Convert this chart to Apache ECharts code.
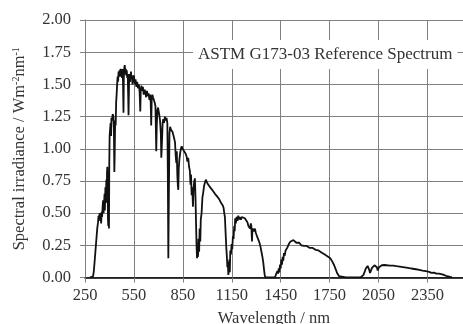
<!DOCTYPE html>
<html>
<head>
<meta charset="utf-8">
<script src="https://cdn.jsdelivr.net/npm/echarts@6/dist/echarts.min.js"></script>
<style>html,body{margin:0;padding:0;background:#fff;}#c{width:463px;height:324px;}</style>
</head>
<body>
<div id="c"></div>
<script>
const titleText = 'ASTM G173-03 Reference Spectrum';
const xAxisName = 'Wavelength / nm';
const yAxisName = 'Spectral irradiance / Wm{sup|-2}nm{sup|-1}';
const xTicks = [250, 550, 850, 1150, 1450, 1750, 2050, 2350];
const yTicks = [0, 0.25, 0.5, 0.75, 1, 1.25, 1.5, 1.75, 2];

const wavelengths = [
280,290,300,305,310,315,320,325,330,333,336,340,343,346,349,352,355,358,361,364,367,370,372,375,378,381,383,385,387,389,391,393,395,397,399,
401,404,407,410,412,416,420,424,427,430,432,435,438,441,444,447,450,453,456,459,462,465,468,471,474,477,480,483,486,488,491,494,497,
500,503,506,509,512,515,517,520,523,526,529,532,535,538,541,544,547,550,555,560,565,570,575,580,585,589,592,596,
600,605,610,615,620,625,630,635,640,645,650,653,656,659,663,667,672,677,682,687,690,694,698,
702,706,710,715,718,722,726,730,735,740,745,750,755,758,761,764,768,772,777,782,787,792,797,
802,806,810,813,816,819,822,825,829,833,838,843,848,853,858,863,868,873,878,883,888,893,897,
900,904,908,912,915,919,924,928,931,934,937,940,943,946,950,953,957,960,965,970,975,980,986,991,996,
1001,1006,1012,1018,1024,1030,1036,1042,1047,1053,1060,1066,1072,1078,1084,1090,1095,
1100,1104,1108,1111,1114,1117,1120,1123,1126,1129,1132,1135,1138,1141,1145,1149,1153,1157,1161,1165,1168,1171,1175,1180,1185,1190,1195,
1200,1206,1212,1218,1224,1230,1236,1241,1246,1252,1257,1262,1267,1270,1274,1277,1282,1287,1292,1297,
1302,1308,1314,1320,1326,1332,1338,1343,1348,1352,1356,1380,
1400,1415,1420,1425,1430,1434,1438,1442,1446,1450,1454,1458,1462,1466,1470,1475,1480,1485,1490,1495,
1500,1505,1510,1516,1522,1528,1534,1540,1546,1552,1558,1564,1570,1576,1580,1586,1592,1598,
1604,1610,1616,1622,1628,1634,1640,1646,1652,1658,1664,1670,1676,1682,1688,1694,
1700,1706,1712,1718,1724,1730,1736,1742,1748,1754,1760,1766,1772,1778,1784,1790,1796,
1802,1808,1815,1850,1900,1940,1950,1958,1965,1972,1978,1983,1988,1993,1998,
2002,2006,2010,2015,2020,2025,2030,2035,2040,2045,2049,2053,2058,2064,2070,2078,2086,2094,
2102,2110,2120,2130,2140,2150,2160,2170,2180,2190,2200,2210,2220,2230,2240,2250,2260,2270,2280,2290,
2300,2310,2320,2330,2340,2350,2360,2370,2375,2380,2390,2400,2405,2410,2420,2428,2435,2442,2450,2460,2470,2480,2490,2500
];

const irradiance = [
0,0,0.01,0.06,0.14,0.22,0.30,0.38,0.43,0.48,0.46,0.50,0.44,0.49,0.42,0.51,0.47,0.55,0.60,0.50,0.58,0.65,0.52,0.70,0.62,0.76,0.58,0.82,0.86,0.70,0.45,0.40,0.70,0.38,0.90,
1.10,1.15,1.20,1.10,1.24,1.22,1.27,1.25,1.16,0.82,0.95,1.22,1.18,1.36,1.42,1.50,1.56,1.52,1.60,1.57,1.61,1.56,1.62,1.58,1.60,1.55,1.62,1.52,1.28,1.55,1.63,1.65,1.58,
1.62,1.57,1.61,1.55,1.58,1.40,1.26,1.50,1.58,1.52,1.56,1.60,1.54,1.57,1.50,1.56,1.53,1.57,1.50,1.54,1.48,1.52,1.47,1.50,1.44,1.29,1.46,1.49,
1.45,1.48,1.42,1.46,1.44,1.40,1.45,1.41,1.43,1.38,1.42,1.36,1.18,1.38,1.42,1.40,1.38,1.36,1.33,0.98,1.18,1.30,1.32,
1.29,1.26,1.22,1.12,0.93,1.05,1.20,1.23,1.20,1.25,1.22,1.24,1.20,0.80,0.15,0.60,1.12,1.17,1.15,1.16,1.13,1.12,1.08,
1.05,0.95,0.89,0.98,0.80,0.72,0.68,0.85,0.92,0.96,1.00,1.02,1.00,1.01,0.98,0.99,0.96,0.94,0.90,0.93,0.86,0.83,0.72,
0.80,0.64,0.70,0.55,0.68,0.74,0.77,0.60,0.42,0.25,0.15,0.22,0.16,0.30,0.20,0.38,0.28,0.45,0.50,0.62,0.66,0.71,0.74,0.76,0.75,
0.73,0.72,0.71,0.70,0.69,0.68,0.67,0.66,0.65,0.64,0.63,0.62,0.61,0.60,0.58,0.57,0.56,
0.54,0.50,0.47,0.38,0.30,0.22,0.16,0.08,0.12,0.02,0.06,0.14,0.04,0.21,0.18,0.26,0.22,0.32,0.30,0.40,0.36,0.46,0.42,0.47,0.44,0.48,0.45,
0.47,0.45,0.47,0.46,0.47,0.46,0.46,0.45,0.43,0.40,0.39,0.38,0.42,0.40,0.28,0.38,0.39,0.36,0.38,0.35,
0.33,0.31,0.29,0.27,0.24,0.20,0.16,0.12,0.06,0.02,0,0,
0,0,0.02,0.01,0.05,0.03,0.07,0.04,0.10,0.07,0.14,0.10,0.16,0.13,0.19,0.17,0.21,0.20,0.23,0.24,
0.26,0.27,0.28,0.29,0.28,0.29,0.28,0.28,0.27,0.275,0.265,0.27,0.26,0.25,0.26,0.255,0.245,0.25,
0.24,0.245,0.235,0.24,0.23,0.235,0.225,0.23,0.22,0.225,0.215,0.22,0.21,0.21,0.205,0.20,
0.195,0.19,0.185,0.18,0.175,0.17,0.165,0.16,0.155,0.15,0.14,0.125,0.11,0.095,0.075,0.055,0.035,
0.02,0.01,0,0,0,0,0.005,0.02,0.045,0.07,0.085,0.09,0.085,0.06,0.035,
0.03,0.05,0.075,0.09,0.085,0.095,0.09,0.10,0.08,0.055,0.06,0.08,0.088,0.092,0.095,0.098,0.097,0.096,
0.095,0.094,0.093,0.091,0.092,0.089,0.088,0.086,0.085,0.082,0.081,0.079,0.077,0.075,0.072,0.071,0.068,0.066,0.064,0.061,
0.060,0.057,0.054,0.052,0.049,0.047,0.044,0.046,0.036,0.041,0.038,0.040,0.030,0.035,0.030,0.022,0.026,0.017,0.020,0.012,0.010,0.006,0.004,0.002
];

const FONT = "'Liberation Serif', 'Times New Roman', serif";
const seriesData = wavelengths.map((w, i) => [w, irradiance[i]]);

const chart = echarts.init(document.getElementById('c'), null, {renderer: 'canvas'});
chart.setOption({
  animation: false,
  backgroundColor: '#fff',
  title: {
    text: titleText,
    left: 193, top: 40,
    backgroundColor: '#fff',
    padding: [6, 5, 6, 5],
    textStyle: {fontFamily: FONT, fontSize: 17, fontWeight: 'normal', color: '#333'}
  },
  grid: {left: 85, right: 0, top: 20, bottom: 46.5, containLabel: false, outerBoundsMode: 'none'},
  xAxis: {
    type: 'value', min: xTicks[0], max: 2568, interval: 300,
    name: xAxisName, nameLocation: 'middle', nameGap: 33,
    nameTextStyle: {fontFamily: FONT, fontSize: 16.5, color: '#333'},
    axisLine: {show: true, lineStyle: {color: '#000', width: 1.5}},
    axisTick: {show: true, length: 5, lineStyle: {color: '#808080'}},
    axisLabel: {fontFamily: FONT, fontSize: 16.5, color: '#333', margin: 10, showMaxLabel: false,
      formatter: v => String(v)},
    splitLine: {show: true, lineStyle: {color: '#808080', width: 1}}
  },
  yAxis: {
    type: 'value', min: yTicks[0], max: yTicks[yTicks.length - 1], interval: 0.25,
    name: yAxisName, nameLocation: 'middle', nameGap: 56,
    nameTextStyle: {fontFamily: FONT, fontSize: 16.5, color: '#333',
      rich: {sup: {fontFamily: FONT, fontSize: 10, color: '#333', verticalAlign: 'top', padding: [0, 0, 8, 0]}}},
    axisLine: {show: true, lineStyle: {color: '#808080'}},
    axisTick: {show: true, length: 5, lineStyle: {color: '#808080'}},
    axisLabel: {fontFamily: FONT, fontSize: 16.5, color: '#333', margin: 14, formatter: v => v.toFixed(2)},
    splitLine: {show: true, lineStyle: {color: '#808080', width: 1}}
  },
  series: [{
    type: 'line', data: seriesData, showSymbol: false, symbol: 'none',
    lineStyle: {color: '#111', width: 1.8}
  }]
});
</script>
</body>
</html>
